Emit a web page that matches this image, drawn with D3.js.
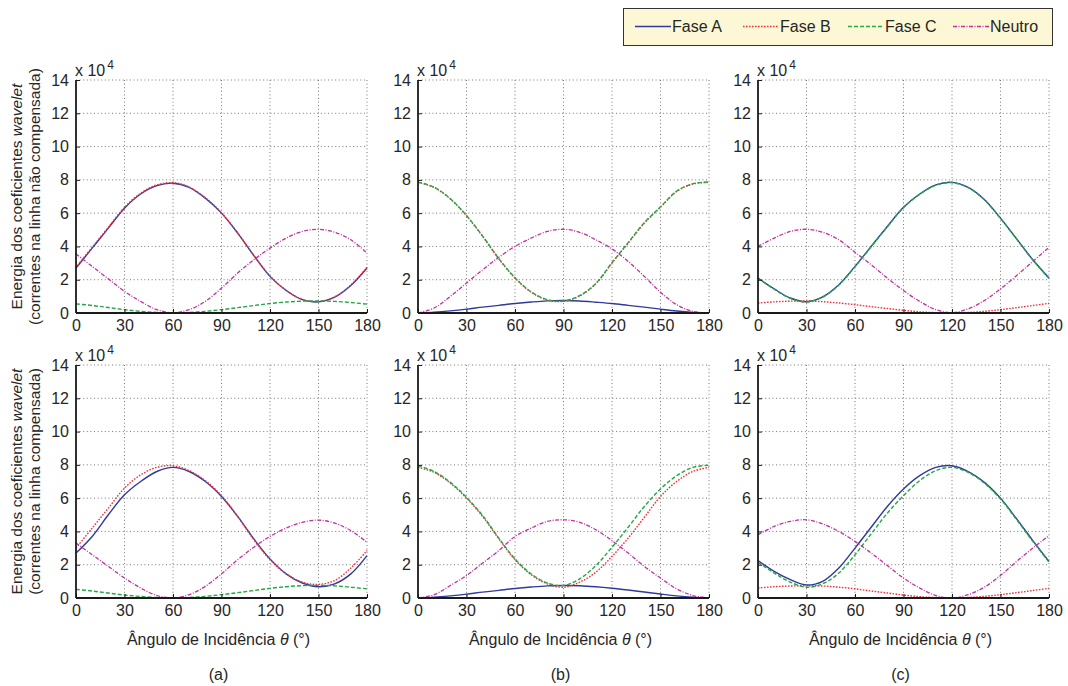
<!DOCTYPE html>
<html>
<head>
<meta charset="utf-8">
<script src="https://cdn.jsdelivr.net/npm/d3@7"></script>
<style>
  body { margin: 0; background: #fff; }
  svg { display: block; font-family: "Liberation Sans", Arial, sans-serif; }
</style>
</head>
<body>
<svg id="chart" width="1068" height="686"></svg>
<script>
// ---- Data (values in units of 10^4) ----
const angles = [0,10,20,30,40,50,60,70,80,90,100,110,120,130,140,150,160,170,180];
const xTicks = [0,30,60,90,120,150,180];
const yTicks = [0,2,4,6,8,10,12,14];
const panelLabels = ["(a)", "(b)", "(c)"];
const seriesNames = ["Fase A", "Fase B", "Fase C", "Neutro"];

// Top row: non-compensated line
const aTopFaseA = [2.7,3.9,5.1,6.3,7.15,7.65,7.8,7.55,6.9,6.0,4.8,3.45,2.2,1.35,0.8,0.67,0.95,1.65,2.7];
const aTopFaseB = [2.75,3.95,5.15,6.35,7.2,7.7,7.83,7.57,6.92,6.02,4.82,3.47,2.22,1.37,0.82,0.69,0.97,1.68,2.75];
const aTopFaseC = [0.55,0.45,0.33,0.2,0.1,0.03,0.0,0.03,0.1,0.2,0.32,0.45,0.57,0.66,0.71,0.72,0.7,0.63,0.53];
const aTopNeutro = [3.55,2.8,2.05,1.3,0.7,0.2,0.02,0.2,0.7,1.5,2.4,3.2,3.9,4.5,4.9,5.03,4.85,4.4,3.6];

const bTopFaseA = [0,0.05,0.13,0.23,0.35,0.46,0.57,0.66,0.73,0.75,0.72,0.65,0.57,0.46,0.35,0.23,0.12,0.04,0];
const bTopFaseB = [7.85,7.54,6.85,5.84,4.6,3.25,2.1,1.25,0.78,0.7,1.02,1.75,3.0,4.2,5.4,6.35,7.3,7.75,7.85];
const bTopFaseC = [7.87,7.56,6.87,5.86,4.62,3.27,2.12,1.27,0.8,0.72,1.05,1.78,3.03,4.23,5.43,6.38,7.32,7.77,7.87];
const bTopNeutro = [0,0.3,1.0,1.8,2.6,3.35,4.0,4.5,4.9,5.03,4.85,4.4,3.85,3.1,2.2,1.25,0.5,0.1,0];

const cTopFaseA = [2.1,1.45,0.9,0.68,0.97,1.7,2.8,4.0,5.2,6.35,7.15,7.7,7.85,7.55,6.82,5.7,4.45,3.2,2.1];
const cTopFaseB = [0.6,0.67,0.71,0.72,0.68,0.6,0.5,0.38,0.27,0.16,0.07,0.02,0.0,0.03,0.1,0.2,0.32,0.45,0.58];
const cTopFaseC = [2.08,1.43,0.88,0.66,0.95,1.68,2.78,3.98,5.18,6.33,7.13,7.68,7.83,7.53,6.8,5.68,4.43,3.18,2.08];
const cTopNeutro = [4.0,4.5,4.9,5.03,4.85,4.4,3.65,2.9,2.1,1.35,0.7,0.2,0.02,0.25,0.75,1.45,2.25,3.1,3.95];

// Bottom row: compensated line
const aBotFaseA = [2.7,3.7,5.0,6.2,7.0,7.6,7.85,7.6,7.0,6.1,4.9,3.55,2.35,1.45,0.9,0.68,0.85,1.45,2.55];
const aBotFaseB = [3.0,4.2,5.4,6.6,7.4,7.85,7.95,7.65,7.05,6.15,4.9,3.5,2.3,1.45,0.95,0.82,1.05,1.8,2.85];
const aBotFaseC = [0.52,0.42,0.3,0.18,0.09,0.03,0.0,0.03,0.1,0.2,0.32,0.45,0.58,0.68,0.74,0.76,0.73,0.65,0.55];
const aBotNeutro = [3.3,2.6,1.9,1.2,0.6,0.15,0.0,0.2,0.7,1.45,2.3,3.05,3.7,4.2,4.55,4.68,4.5,4.05,3.35];

const bBotFaseA = [0,0.05,0.13,0.23,0.35,0.46,0.57,0.66,0.73,0.75,0.74,0.68,0.59,0.48,0.36,0.24,0.13,0.05,0];
const bBotFaseB = [7.85,7.55,6.9,6.0,4.9,3.55,2.3,1.4,0.85,0.65,0.95,1.55,2.5,3.6,4.85,6.1,7.0,7.6,7.85];
const bBotFaseC = [7.95,7.6,6.95,6.05,4.95,3.6,2.35,1.45,0.9,0.75,1.15,1.95,3.05,4.25,5.5,6.55,7.35,7.85,7.98];
const bBotNeutro = [0,0.2,0.75,1.35,2.1,2.85,3.7,4.2,4.6,4.7,4.55,4.1,3.45,2.7,1.9,1.2,0.55,0.15,0];

const cBotFaseA = [2.25,1.6,1.1,0.78,1.0,1.8,3.0,4.25,5.5,6.55,7.35,7.85,7.95,7.6,6.95,6.0,4.75,3.45,2.2];
const cBotFaseB = [0.6,0.68,0.72,0.74,0.72,0.65,0.55,0.42,0.3,0.18,0.08,0.02,0.0,0.03,0.1,0.2,0.32,0.45,0.58];
const cBotFaseC = [2.15,1.5,0.95,0.65,0.85,1.5,2.6,3.85,5.1,6.15,7.05,7.65,7.85,7.55,6.9,5.95,4.7,3.4,2.15];
const cBotNeutro = [3.8,4.3,4.6,4.7,4.45,4.0,3.4,2.7,1.95,1.2,0.6,0.15,0.0,0.2,0.65,1.35,2.2,3.0,3.75];

const panels = [
  {row:0, col:0, series:[aTopFaseA, aTopFaseB, aTopFaseC, aTopNeutro]},
  {row:0, col:1, series:[bTopFaseA, bTopFaseB, bTopFaseC, bTopNeutro]},
  {row:0, col:2, series:[cTopFaseA, cTopFaseB, cTopFaseC, cTopNeutro]},
  {row:1, col:0, series:[aBotFaseA, aBotFaseB, aBotFaseC, aBotNeutro]},
  {row:1, col:1, series:[bBotFaseA, bBotFaseB, bBotFaseC, bBotNeutro]},
  {row:1, col:2, series:[cBotFaseA, cBotFaseB, cBotFaseC, cBotNeutro]}
];

// ---- Styles ----
const styles = [
  {color:"#2e3a9c", dash:null, width:1.4},
  {color:"#f0303c", dash:"1.6,1.4", width:1.4},
  {color:"#22a845", dash:"4,2", width:1.4},
  {color:"#c0309e", dash:"4,1.5,1,1.5", width:1.3}
];

const svg = d3.select("#chart");
const panelX = [76, 418, 758];
const panelY = [80, 365];
const pw = 291, ph = 233;
const textColor = "#262626";
const fs = "16px";

panels.forEach(p => {
  const g = svg.append("g").attr("transform", `translate(${panelX[p.col]},${panelY[p.row]})`);
  const x = d3.scaleLinear().domain([0,180]).range([0,pw]);
  const y = d3.scaleLinear().domain([0,14]).range([ph,0]);

  // grid
  g.append("g").selectAll("line").data(xTicks.filter(d => d > 0)).join("line")
    .attr("x1", d => x(d)).attr("x2", d => x(d)).attr("y1", 0).attr("y2", ph)
    .attr("stroke", "#777").attr("stroke-width", 1).attr("stroke-dasharray", "1,2.6");
  g.append("g").selectAll("line").data(yTicks.filter(d => d > 0)).join("line")
    .attr("x1", 0).attr("x2", pw).attr("y1", d => y(d)).attr("y2", d => y(d))
    .attr("stroke", "#777").attr("stroke-width", 1).attr("stroke-dasharray", "1,2.6");

  // lines
  p.series.forEach((vals, i) => {
    const st = styles[i];
    const line = d3.line().x((d, k) => x(angles[k])).y(d => y(d)).curve(d3.curveCatmullRom);
    g.append("path").datum(vals).attr("d", line)
      .attr("fill", "none").attr("stroke", st.color).attr("stroke-width", st.width)
      .attr("stroke-dasharray", st.dash);
  });

  // axes
  const xAxis = d3.axisBottom(x).tickValues(xTicks).tickSize(-4).tickPadding(7).tickFormat(d3.format("d"));
  const yAxis = d3.axisLeft(y).tickValues(yTicks).tickSize(-4).tickPadding(7).tickFormat(d3.format("d"));
  const gx = g.append("g").attr("transform", `translate(0,${ph})`).call(xAxis);
  const gy = g.append("g").call(yAxis);
  [gx, gy].forEach(a => {
    a.select(".domain").attr("stroke", "#1a1a1a").attr("stroke-width", 1.8);
    a.selectAll(".tick line").attr("stroke", "#1a1a1a");
    a.selectAll("text").attr("fill", textColor).style("font-size", fs)
      .style("font-family", '"Liberation Sans", Arial, sans-serif');
  });
  gx.select(".domain").attr("d", `M0,0H${pw}`);
  gy.select(".domain").attr("d", `M0,${ph}V0`);

  // x 10^4 multiplier
  const mult = g.append("text").attr("x", -1).attr("y", -4).attr("fill", textColor)
    .style("font-size", fs);
  mult.append("tspan").text("x 10");
  mult.append("tspan").attr("dy", -7).attr("dx", 2).style("font-size", "12px").text("4");

  // x axis title in bottom row
  if (p.row === 1) {
    const t = g.append("text").attr("x", pw/2 - 3).attr("y", ph + 47)
      .attr("text-anchor", "middle").attr("fill", textColor).style("font-size", fs);
    t.append("tspan").text("Ângulo de Incidência ");
    t.append("tspan").style("font-style", "italic").text("θ");
    t.append("tspan").text(" (°)");
    g.append("text").attr("x", pw/2 - 3).attr("y", ph + 82)
      .attr("text-anchor", "middle").attr("fill", textColor).style("font-size", fs)
      .text(panelLabels[p.col]);
  }
});

// y axis titles
[0,1].forEach(r => {
  const cy = panelY[r] + ph/2;
  const g = svg.append("g").attr("transform", `translate(0,${cy}) rotate(-90)`);
  const t1 = g.append("text").attr("x", 0).attr("y", 22).attr("text-anchor", "middle")
    .attr("fill", textColor).style("font-size", "15.5px");
  t1.append("tspan").text("Energia dos coeficientes ");
  t1.append("tspan").style("font-style", "italic").text("wavelet");
  g.append("text").attr("x", 0).attr("y", 40).attr("text-anchor", "middle")
    .attr("fill", textColor).style("font-size", "15.5px")
    .text(r === 0 ? "(correntes na linha não compensada)" : "(correntes na linha compensada)");
});

// legend
const lg = svg.append("g");
lg.append("rect").attr("x", 623.5).attr("y", 8.5).attr("width", 429).attr("height", 37)
  .attr("fill", "#fcf8d5").attr("stroke", "#333").attr("stroke-width", 1);
const legX = [635, 743, 848, 953];
seriesNames.forEach((name, i) => {
  const st = styles[i];
  lg.append("line").attr("x1", legX[i]).attr("x2", legX[i] + 36).attr("y1", 26.5).attr("y2", 26.5)
    .attr("stroke", st.color).attr("stroke-width", st.width).attr("stroke-dasharray", st.dash);
  lg.append("text").attr("x", legX[i] + 37).attr("y", 32).attr("fill", textColor)
    .style("font-size", fs).text(name);
});
</script>
</body>
</html>
